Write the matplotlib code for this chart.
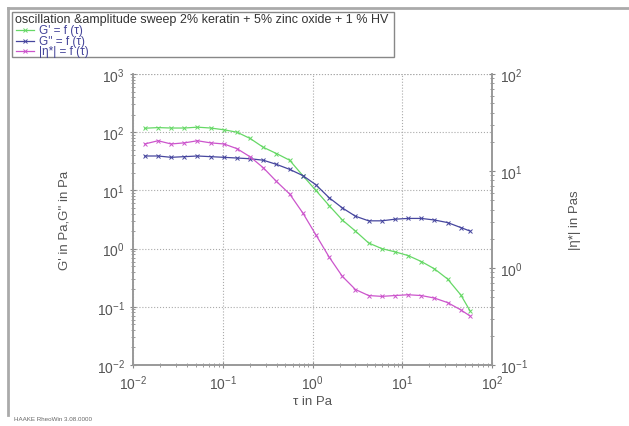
import matplotlib
matplotlib.use("Agg")
import matplotlib.pyplot as plt
from matplotlib.lines import Line2D
from matplotlib.patches import Rectangle
from matplotlib.ticker import LogLocator, NullFormatter

plt.rcParams['font.family'] = ['Liberation Sans', 'DejaVu Sans']

# ---- data ----
tau = [0.0135, 0.019, 0.0266, 0.0373, 0.0523, 0.0733, 0.103, 0.144, 0.202,
       0.283, 0.397, 0.556, 0.779, 1.09, 1.53, 2.15, 3.01, 4.22, 5.91, 8.29,
       11.6, 16.3, 22.8, 32.0, 44.9, 57.0]
g_storage = [117, 120, 118, 118, 122, 118, 110, 100, 78, 55, 43, 33, 18, 10,
             5.5, 3.1, 2.0, 1.25, 1.0, 0.88, 0.76, 0.6, 0.45, 0.3, 0.16, 0.085]
g_loss = [39, 39, 37, 38, 39, 38, 37, 36, 35, 33, 28, 23, 18, 12.5, 7.5, 5.0,
          3.6, 3.0, 3.0, 3.2, 3.3, 3.3, 3.1, 2.8, 2.3, 2.0]
eta = [19, 20.5, 19, 19.5, 20.5, 19.5, 19, 17, 14, 10.8, 7.8, 5.8, 3.7, 2.2,
       1.3, 0.82, 0.6, 0.52, 0.51, 0.52, 0.53, 0.52, 0.49, 0.44, 0.37, 0.32]

title = "oscillation &amplitude sweep 2% keratin + 5% zinc oxide + 1 % HV"
labels = ["G' = f (\u03c4)", "G'' = f (\u03c4)", "|\u03b7*| = f (\u03c4)"]
colors = ["#66d866", "#46469e", "#cc55cc"]
footer = "HAAKE RheoWin 3.08.0000"

W, H = 629, 427
fig = plt.figure(figsize=(W / 100, H / 100), dpi=100)

def fx(px):
    return px / W

def fy(py):
    return 1 - py / H

ax = fig.add_axes([fx(133), fy(366), fx(492) - fx(133), fy(75) - fy(366)])
ax2 = ax.twinx()

tick_col = "#888888"
lab_col = "#555555"

for a in (ax, ax2):
    a.set_xscale('log')
    a.set_yscale('log')
    for s in a.spines.values():
        s.set_color("#999999")
        s.set_linewidth(1.2)
    a.spines['top'].set_visible(False)

ax.set_xlim(1e-2, 1e2)
ax.set_ylim(1e-2, 1e3)
ax2.set_ylim(1e-1, 1e2)

ax.grid(True, which='major', linestyle=':', color="#aaaaaa", linewidth=0.8)
ax.axhline(1e3, linestyle=':', color="#aaaaaa", linewidth=0.8)

for a in (ax, ax2):
    a.tick_params(which='major', direction='inout', length=5, width=0.8,
                  colors=tick_col, labelcolor=lab_col, labelsize=10)
    a.tick_params(which='minor', direction='inout', length=3, width=0.6,
                  colors=tick_col)
ax.xaxis.set_minor_locator(LogLocator(subs=range(2, 10), numticks=20))
ax.xaxis.set_minor_formatter(NullFormatter())
ax.yaxis.set_minor_locator(LogLocator(subs=range(2, 10), numticks=20))
ax.yaxis.set_minor_formatter(NullFormatter())
ax2.yaxis.set_minor_locator(LogLocator(subs=range(2, 10), numticks=20))
ax2.yaxis.set_minor_formatter(NullFormatter())

mk = dict(marker='x', markersize=3.5, markeredgewidth=0.7, linewidth=0.9)
ax.plot(tau, g_storage, color=colors[0], **mk)
ax.plot(tau, g_loss, color=colors[1], **mk)
ax2.plot(tau, eta, color=colors[2], **mk)

ax.set_xlabel("\u03c4 in Pa", color=lab_col, fontsize=9.5, labelpad=2)
ax.set_ylabel("G' in Pa,G'' in Pa", color=lab_col, fontsize=9.5, labelpad=19)
ax2.set_ylabel("|\u03b7*| in Pas", color=lab_col, fontsize=9.5, labelpad=29)

# outer frame lines
fig.add_artist(Line2D([fx(8), 1.0], [fy(9), fy(9)], color="#aaaaaa", linewidth=2))
fig.add_artist(Line2D([fx(8), fx(8)], [fy(9), fy(416)], color="#aaaaaa", linewidth=2))

# legend box
fig.add_artist(Rectangle((fx(12), fy(58)), fx(394) - fx(12), fy(13) - fy(58),
                         fill=False, edgecolor="#888888", linewidth=1))
fig.text(fx(15), fy(20), title, fontsize=9, color="#333333", va='center', ha='left')
for i, (lab, c) in enumerate(zip(labels, colors)):
    yy = fy(31 + i * 10.5)
    fig.add_artist(Line2D([fx(16), fx(34)], [yy, yy], color=c, linewidth=0.9))
    fig.add_artist(Line2D([fx(25)], [yy], color=c, marker='x',
                          markersize=3, markeredgewidth=0.7, linestyle='none'))
    fig.text(fx(39), yy, lab, fontsize=8.5, color="#444499", va='center', ha='left')

fig.text(fx(14), fy(420), footer, fontsize=4.5, color="#666666", va='center', ha='left')

fig.savefig("out.png", dpi=100)
